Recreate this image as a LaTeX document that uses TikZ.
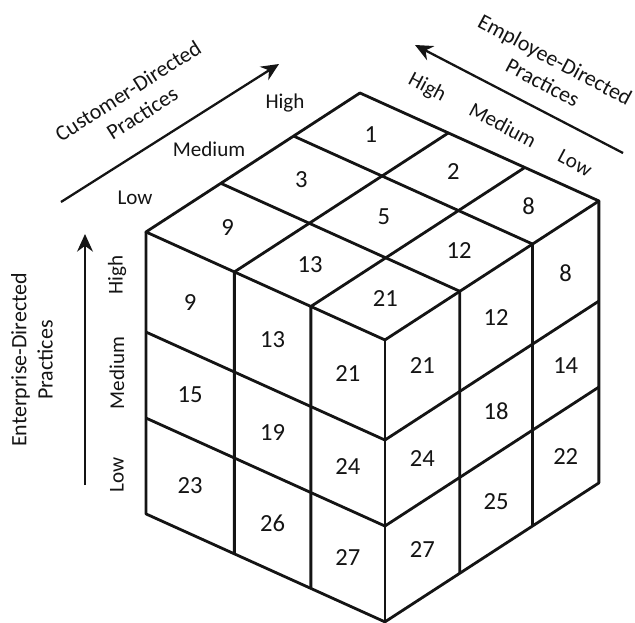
\documentclass[tikz,border=0pt]{standalone}
\usepackage{fontspec}
\setmainfont{Carlito}
\usetikzlibrary{arrows.meta}
\definecolor{InkDark}{HTML}{141414}

\begin{document}
\begin{tikzpicture}[x=0.02cm,y=-0.02cm,
    every node/.style={font=\fontsize{12}{14}\selectfont, text=InkDark},
    titletext/.style={align=center, font=\fontsize{12.5}{15}\selectfont},
    cellnum/.style={font=\fontsize{14}{16}\selectfont},
    cubeline/.style={draw=InkDark, line width=1.6pt, line join=round},
    axisline/.style={draw=InkDark, line width=1.3pt, -{Stealth[length=10pt,width=9pt]}}]
  \useasboundingbox (0,0) rectangle (635,622);

  % customer axis
  \coordinate (custLo) at (61,202);
  \coordinate (custHi) at (279,64);
  \draw[axisline] (custLo) -- (custHi);
  \node[titletext, rotate=32.5] (custTitle) at (135,102) {Customer-Directed\\Practices};
  \node (custH) at (285,103) {High};
  \node (custM) at (209,149) {Medium};
  \node (custL) at (135,198) {Low};

  % employee axis
  \coordinate (emplLo) at (623,153);
  \coordinate (emplHi) at (415,45);
  \draw[axisline] (emplLo) -- (emplHi);
  \node[titletext, rotate=-28] (emplTitle) at (549,71) {Employee-Directed\\Practices};
  \node[rotate=-28] (emplH) at (427,88) {High};
  \node[rotate=-28] (emplM) at (503,125) {Medium};
  \node[rotate=-28] (emplL) at (575,163) {Low};

  % enterprise axis
  \coordinate (entLo) at (85,485);
  \coordinate (entHi) at (85,234);
  \draw[axisline] (entLo) -- (entHi);
  \node[titletext, rotate=90] (entTitle) at (32,360) {Enterprise-Directed\\Practices};
  \node[rotate=90] (entH) at (117,275) {High};
  \node[rotate=90] (entM) at (117,373) {Medium};
  \node[rotate=90] (entL) at (117,475) {Low};

  % cube: x runs to the left corner, y to the right corner, z down
  \begin{scope}[shift={(7.7cm,-6.8cm)}, x={(-4.78cm,2.16cm)}, y={(4.28cm,2.78cm)}, z={(0cm,-5.64cm)}]
    \draw[cubeline] (0,0,0) -- (1,0,0) -- (1,1,0) -- (0,1,0) -- cycle;
    \draw[cubeline] (1,0,0) -- (1,0,1) -- (0,0,1) -- (0,1,1) -- (0,1,0);
    \draw[cubeline] (0,0,0) -- (0,0,1);
    \foreach \s in {0.31,0.63}
      \draw[cubeline] (\s,1,0) -- (\s,0,0) -- (\s,0,1);
    \foreach \t in {0.35,0.69}
      \draw[cubeline] (1,\t,0) -- (0,\t,0) -- (0,\t,1);
    \foreach \v in {0.355,0.66}
      \draw[cubeline] (1,0,\v) -- (0,0,\v) -- (0,1,\v);

    \foreach \n/\s/\t [count=\i] in {21/0.155/0.175, 13/0.47/0.175, 9/0.815/0.175,
        12/0.155/0.52, 5/0.47/0.52, 3/0.815/0.52,
        8/0.155/0.845, 2/0.47/0.845, 1/0.815/0.845}
      \node[cellnum] (top\i) at (\s,\t,0) {\n};
    \foreach \n/\s/\v [count=\i] in {9/0.815/0.178, 13/0.47/0.178, 21/0.155/0.178,
        15/0.815/0.508, 19/0.47/0.508, 24/0.155/0.508,
        23/0.815/0.83, 26/0.47/0.83, 27/0.155/0.83}
      \node[cellnum] (left\i) at (\s,0,\v) {\n};
    \foreach \n/\t/\v [count=\i] in {21/0.175/0.178, 12/0.52/0.178, 8/0.845/0.178,
        24/0.175/0.508, 18/0.52/0.508, 14/0.845/0.508,
        27/0.175/0.83, 25/0.52/0.83, 22/0.845/0.83}
      \node[cellnum] (right\i) at (0,\t,\v) {\n};
  \end{scope}
\end{tikzpicture}
\end{document}
